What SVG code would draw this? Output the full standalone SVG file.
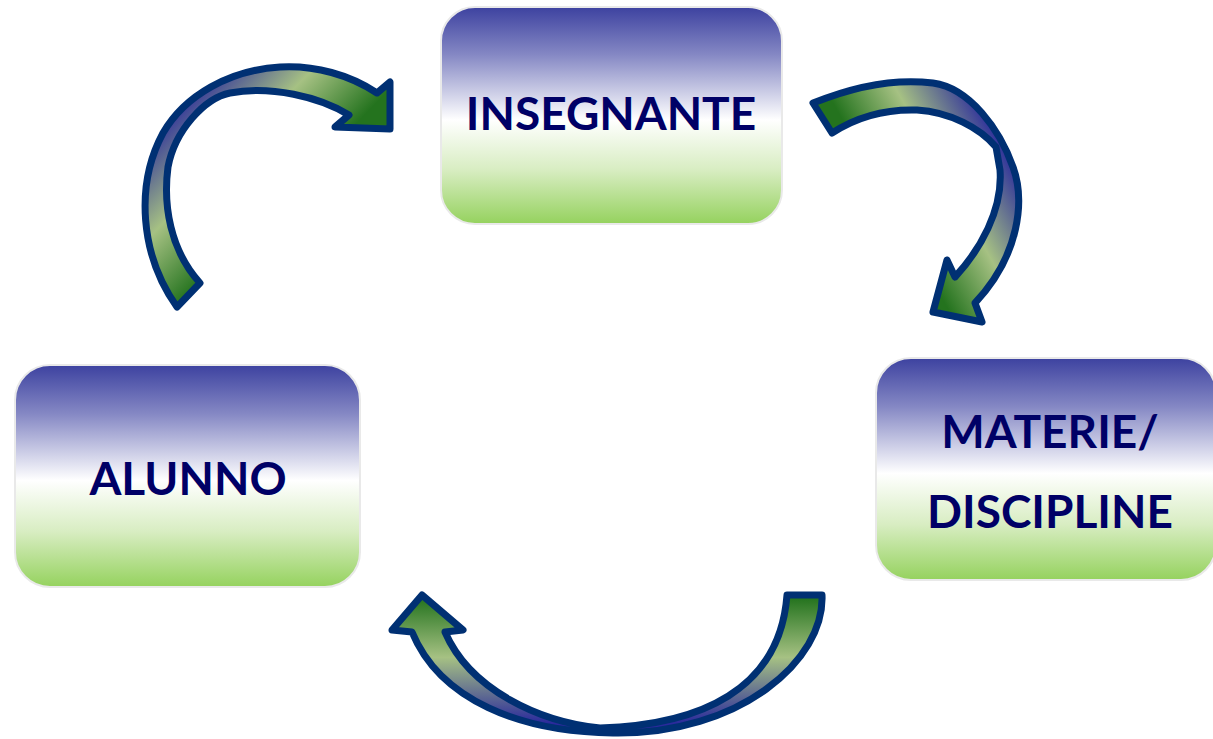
<svg xmlns="http://www.w3.org/2000/svg" width="1213" height="739" viewBox="0 0 1213 739">
<defs>
<style>
.box{stroke:#e9e9e9;stroke-width:2}
.lbl{font-family:Lato,"Liberation Sans",sans-serif;font-weight:bold;font-size:46px;fill:#000066;text-anchor:middle}
.arr{stroke:#003073;stroke-width:7;stroke-linejoin:round}
</style>
<linearGradient id="boxg" x1="0" y1="0" x2="0" y2="1">
<stop offset="0" stop-color="#3d42a0"/>
<stop offset="0.22" stop-color="#8588c4"/>
<stop offset="0.52" stop-color="#ffffff"/>
<stop offset="0.75" stop-color="#d8edc2"/>
<stop offset="1" stop-color="#95d25e"/>
</linearGradient>
<linearGradient id="a1" gradientUnits="userSpaceOnUse" x1="280" y1="202" x2="170" y2="95">
<stop offset="0" stop-color="#24731e"/>
<stop offset="0.45" stop-color="#a6c183"/>
<stop offset="0.95" stop-color="#2a2a9c"/>
</linearGradient>
<linearGradient id="a2" gradientUnits="userSpaceOnUse" x1="890" y1="205" x2="1010" y2="138">
<stop offset="0" stop-color="#24731e"/>
<stop offset="0.45" stop-color="#a6c183"/>
<stop offset="0.95" stop-color="#2a2a9c"/>
</linearGradient>
<linearGradient id="a3" gradientUnits="userSpaceOnUse" x1="0" y1="598" x2="0" y2="730">
<stop offset="0" stop-color="#24731e"/>
<stop offset="0.45" stop-color="#a6c183"/>
<stop offset="0.95" stop-color="#2a2a9c"/>
</linearGradient>
</defs>
<rect width="1213" height="739" fill="#ffffff"/>
<g id="insegnante">
<rect class="box" x="441" y="7" width="341" height="217" rx="34" fill="url(#boxg)"/>
<text class="lbl" x="611" y="130">INSEGNANTE</text>
</g>
<g id="alunno">
<rect class="box" x="15" y="365" width="345" height="222" rx="35" fill="url(#boxg)"/>
<text class="lbl" x="188" y="495">ALUNNO</text>
</g>
<g id="materie">
<rect class="box" x="876" y="358" width="340" height="222" rx="35" fill="url(#boxg)"/>
<text class="lbl" x="1050" y="448">MATERIE/</text>
<text class="lbl" x="1050" y="528">DISCIPLINE</text>
</g>
<g id="connectors">
<path class="arr" fill="url(#a1)" d="M177,307 C140,255 135,185 163,133 C185,95 230,70 280,67 C315,65 350,75 377,93 L390,82 L390,129 L335,127 L349,115 C320,97 270,85 230,93 C205,98 175,130 168,167 C163,205 170,250 200,283 Z"/>
<path class="arr" fill="url(#a2)" d="M813,103 C850,88 893,78 933,83 C970,88 1000,130 1013,167 C1025,200 1020,255 975,303 L982,322 L933,312 L947,260 L955,277 C980,250 1003,210 1000,170 L996,147 C980,128 950,112 917,110 C885,109 855,118 832,133 Z"/>
<path class="arr" fill="url(#a3)" d="M822,595 C825,660 740,735 613,733 C520,732 440,700 412,632 L392,630 L422,595 L463,630 L445,632 C470,690 540,722 600,728 C700,725 780,690 787,595 Z"/>
</g>
</svg>
